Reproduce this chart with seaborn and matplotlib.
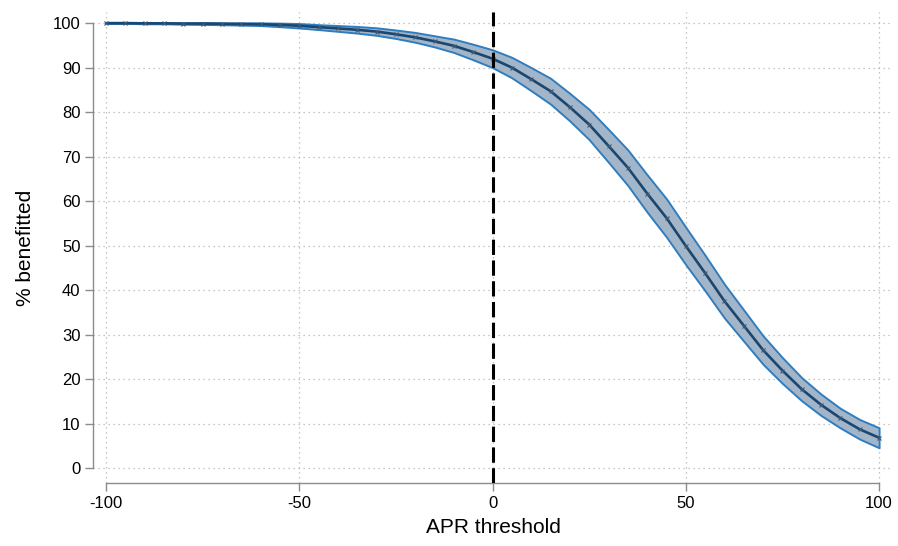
import numpy as np
import pandas as pd
import matplotlib
matplotlib.use("Agg")
import matplotlib.pyplot as plt
import seaborn as sns

# APR threshold grid and estimated share benefitted (with confidence band)
apr = [-100, -95, -90, -85, -80, -75, -70, -65, -60, -55, -50, -45, -40, -35, -30,
       -25, -20, -15, -10, -5, 0, 5, 10, 15, 20, 25, 30, 35, 40, 45, 50, 55, 60,
       65, 70, 75, 80, 85, 90, 95, 100]
benefit = [100.0, 100.0, 99.95, 99.95, 99.9, 99.9, 99.85, 99.8, 99.75, 99.6, 99.4,
           99.1, 98.8, 98.5, 98.1, 97.5, 96.8, 95.9, 94.9, 93.5, 92.0, 90.0, 87.4,
           84.7, 81.1, 77.2, 72.4, 67.5, 61.7, 56.2, 49.9, 43.8, 37.5, 32.0, 26.5,
           21.9, 17.7, 14.2, 11.2, 8.7, 6.8]
ci_upper = [100.05, 100.05, 100.05, 100.05, 100.05, 100.1, 100.05, 100.05, 100.05,
            100.0, 99.9, 99.65, 99.45, 99.25, 98.95, 98.45, 97.9, 97.15, 96.4, 95.25,
            94.0, 92.3, 90.0, 87.6, 84.2, 80.6, 76.1, 71.5, 65.9, 60.5, 54.1, 47.8,
            41.3, 35.5, 29.7, 24.8, 20.3, 16.6, 13.4, 10.9, 9.05]
ci_lower = [99.95, 99.95, 99.85, 99.85, 99.75, 99.7, 99.65, 99.55, 99.45, 99.2,
            98.9, 98.55, 98.15, 97.75, 97.25, 96.55, 95.7, 94.65, 93.4, 91.75, 90.0,
            87.7, 84.8, 81.8, 78.0, 73.8, 68.7, 63.5, 57.5, 51.9, 45.7, 39.8, 33.7,
            28.5, 23.3, 19.0, 15.1, 11.8, 9.0, 6.5, 4.55]
x_ticks = [-100, -50, 0, 50, 100]
y_ticks = [0, 10, 20, 30, 40, 50, 60, 70, 80, 90, 100]

df = pd.DataFrame({"apr": apr, "benefit": benefit, "lo": ci_lower, "hi": ci_upper})

sns.set_theme(style="ticks")
plt.rcParams['font.family'] = ['Liberation Sans', 'DejaVu Sans']

fig = plt.figure(figsize=(8.98, 5.46), dpi=100)
ax = fig.add_axes([93 / 898, 63 / 546, 800 / 898, 471 / 546])

navy = '#1a476f'
ax.fill_between(df['apr'], df['lo'], df['hi'], facecolor='#a3b5c9',
                edgecolor='#2f7dbf', linewidth=1.4, zorder=2)
sns.lineplot(data=df, x='apr', y='benefit', ax=ax, color=navy, linewidth=1.9,
             marker='x', markersize=3.5, markeredgewidth=0.8,
             markeredgecolor='#3d5a78', zorder=3)
ax.axvline(0, color='black', linewidth=2.2, dashes=(5, 1.8), zorder=4)

ax.set_xlim(-103.4, 103.6)
ax.set_ylim(-3.37, 102.5)
ax.set_xticks(x_ticks)
ax.set_xticklabels([str(t) for t in x_ticks])
ax.set_yticks(y_ticks)

ax.grid(True, linestyle=(0, (1, 3)), color='#b4b4b4', linewidth=0.9, zorder=0)
for s in ['top', 'right']:
    ax.spines[s].set_visible(False)
for s in ['left', 'bottom']:
    ax.spines[s].set_color('#8c8c8c')
    ax.spines[s].set_linewidth(1.0)
ax.spines['left'].set_bounds(0, 100)
ax.spines['bottom'].set_bounds(-100, 100)
ax.tick_params(axis='both', direction='out', length=5.5, width=1.0, color='#8c8c8c',
               labelsize=12, labelcolor='black')
ax.tick_params(axis='y', pad=3.5)
ax.tick_params(axis='x', pad=4)

ax.set_xlabel('APR threshold', fontsize=15, labelpad=5, color='black')
ax.set_ylabel('% benefitted', fontsize=15, labelpad=13, color='black')

fig.savefig('out.png', dpi=100)
